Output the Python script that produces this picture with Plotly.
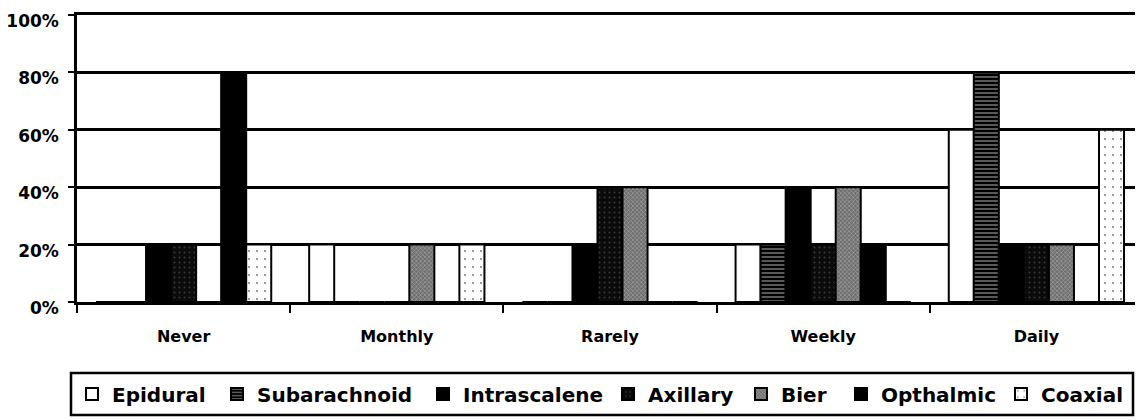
import plotly.graph_objects as go

# ---- data (fractions of respondents) ----
categories = ["Never", "Monthly", "Rarely", "Weekly", "Daily"]
series_names = ["Epidural", "Subarachnoid", "Intrascalene", "Axillary", "Bier", "Opthalmic", "Coaxial"]
epidural = [0.0, 0.2, 0.0, 0.2, 0.6]
subarachnoid = [0.0, 0.0, 0.0, 0.2, 0.8]
intrascalene = [0.2, 0.0, 0.2, 0.4, 0.2]
axillary = [0.2, 0.0, 0.4, 0.2, 0.2]
bier = [0.0, 0.2, 0.4, 0.4, 0.2]
opthalmic = [0.8, 0.0, 0.0, 0.2, 0.0]
coaxial = [0.2, 0.2, 0.0, 0.0, 0.6]
y_tick_values = [0, 0.2, 0.4, 0.6, 0.8, 1.0]
y_tick_labels = ["0%", "20%", "40%", "60%", "80%", "100%"]

series_values = [epidural, subarachnoid, intrascalene, axillary, bier, opthalmic, coaxial]

# ---- styles ----
styles = [
    dict(color="white"),
    dict(color="black", pattern=dict(shape="-", bgcolor="black", fgcolor="white", size=4, solidity=0.35)),
    dict(color="black"),
    dict(color="black", pattern=dict(shape=".", bgcolor="#0a0a0a", fgcolor="#666666", size=5, solidity=0.12)),
    dict(color="#8a8a8a", pattern=dict(shape="x", bgcolor="#6e6e6e", fgcolor="#e6e6e6", size=3, solidity=0.35)),
    dict(color="black"),
    dict(color="white", pattern=dict(shape=".", bgcolor="white", fgcolor="black", size=8, solidity=0.06)),
]
legend_widths = [100, 161, 140, 88, 55, 115, 82]

FONT = "DejaVu Sans"

fig = go.Figure()
for name, vals, st, lw in zip(series_names, series_values, styles, legend_widths):
    marker = dict(color=st["color"], line=dict(color="black", width=2))
    if "pattern" in st:
        marker["pattern"] = st["pattern"]
    fig.add_trace(go.Bar(name=name, x=categories, y=vals, marker=marker, legendwidth=lw))

# page is rendered with an 8px body margin, so the figure is offset by 8px
OFF = 8
W, H = 1143 - OFF, 420 - OFF
ml, mr, mt, mb = 77 - OFF, 0, 15 - OFF, 118
pw, ph = W - ml - mr, H - mt - mb

def px_x(x):  # page px -> paper
    return (x - OFF - ml) / pw

def px_y(y):
    return (H - mb - (y - OFF)) / ph

fig.update_layout(
    width=W, height=H,
    margin=dict(l=ml, r=mr, t=mt, b=mb, pad=0, autoexpand=False),
    paper_bgcolor="white", plot_bgcolor="white",
    barmode="group", bargap=0.178, bargroupgap=0,
    font=dict(family=FONT, color="black", size=16, weight="bold"),
    showlegend=True,
    legend=dict(
        orientation="h", x=px_x(72), xanchor="left", y=px_y(394), yanchor="middle",
        bgcolor="rgba(0,0,0,0)", borderwidth=0,
        font=dict(family=FONT, size=20, color="black", weight="bold"),
        traceorder="normal",
    ),
    shapes=[dict(type="rect", xref="paper", yref="paper",
                 x0=px_x(71), x1=px_x(1133), y0=px_y(415), y1=px_y(373),
                 line=dict(color="black", width=2.5), fillcolor="rgba(0,0,0,0)")],
)

fig.update_xaxes(
    type="category", showgrid=False, showline=True, mirror=True,
    linecolor="black", linewidth=2.5,
    ticks="outside", tickson="boundaries", ticklen=8, tickwidth=2, tickcolor="black",
    tickfont=dict(family=FONT, size=16, color="black", weight="bold"),
    ticklabelstandoff=18, zeroline=False,
)
fig.update_yaxes(
    range=[0, 1.0], tickvals=y_tick_values, ticktext=y_tick_labels,
    showgrid=True, gridcolor="black", gridwidth=2.5,
    showline=True, linecolor="black", linewidth=2.5,
    ticks="outside", ticklen=6, tickwidth=2, tickcolor="black",
    tickfont=dict(family=FONT, size=17, color="black", weight="bold"),
    ticklabelstandoff=6, ticklabelshift=6, ticklabeloverflow="allow", zeroline=False,
)

fig.write_html("out.html")
